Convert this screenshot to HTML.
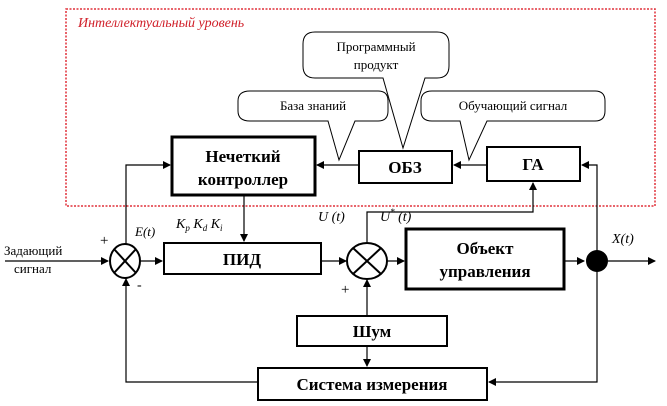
<!DOCTYPE html>
<html><head><meta charset="utf-8"><style>
html,body{margin:0;padding:0;background:#fff;}
svg{display:block;}
text{font-family:"Liberation Serif",serif;}
</style></head><body>
<svg width="667" height="406" viewBox="0 0 667 406" xmlns="http://www.w3.org/2000/svg">
<defs>
<marker id="a" markerWidth="8" markerHeight="8" refX="7" refY="4" orient="auto" markerUnits="userSpaceOnUse">
<path d="M0,0 L8,4 L0,8 z" fill="#000"/></marker>
</defs>
<rect x="66" y="9" width="589" height="197" fill="none" stroke="#e0303a" stroke-width="1.5" stroke-dasharray="2,1.5"/>
<text x="78" y="27" font-size="14" font-style="italic" fill="#d0202a">Интеллектуальный уровень</text>

<path d="M315,32 H437 Q449,32 449,44 V66 Q449,78 437,78 H425 L403,148 L383,78 H315 Q303,78 303,66 V44 Q303,32 315,32 Z" fill="#fff" stroke="#000" stroke-width="1"/>
<text x="376" y="51" font-size="13" text-anchor="middle">Программный</text>
<text x="376" y="69" font-size="13" text-anchor="middle">продукт</text>
<path d="M250,91 H378 Q388,91 388,101 V111 Q388,121 378,121 H355 L339,160 L328,121 H250 Q238,121 238,111 V101 Q238,91 250,91 Z" fill="#fff" stroke="#000" stroke-width="1"/>
<text x="313" y="110" font-size="13" text-anchor="middle">База знаний</text>
<path d="M432,91 H595 Q605,91 605,101 V111 Q605,121 595,121 H487 L469,160 L460,121 H432 Q421,121 421,111 V101 Q421,91 432,91 Z" fill="#fff" stroke="#000" stroke-width="1"/>
<text x="513" y="110" font-size="13" text-anchor="middle">Обучающий сигнал</text>

<g fill="#fff" stroke="#000">
<rect x="172" y="137" width="143" height="58" stroke-width="3"/>
<rect x="359" y="151" width="93" height="32" stroke-width="2"/>
<rect x="487" y="147" width="93" height="34" stroke-width="2"/>
<rect x="164" y="243" width="157" height="31" stroke-width="2"/>
<rect x="406" y="229" width="158" height="60" stroke-width="3"/>
<rect x="297" y="316" width="150" height="30" stroke-width="2"/>
<rect x="258" y="368" width="229" height="32" stroke-width="2"/>
</g>
<g font-weight="bold" text-anchor="middle" font-size="17">
<text x="243" y="162">Нечеткий</text>
<text x="243" y="185">контроллер</text>
<text x="405" y="173">ОБЗ</text>
<text x="533" y="170">ГА</text>
<text x="242" y="265">ПИД</text>
<text x="485" y="254">Объект</text>
<text x="485" y="277">управления</text>
<text x="372" y="337">Шум</text>
<text x="372" y="390">Система измерения</text>
</g>

<g stroke="#000" stroke-width="1.2" fill="none">
<line x1="487" y1="165" x2="454" y2="165" marker-end="url(#a)"/>
<line x1="359" y1="165" x2="317" y2="165" marker-end="url(#a)"/>
<polyline points="126,244 126,165 170,165" marker-end="url(#a)"/>
<line x1="244" y1="195" x2="244" y2="241" marker-end="url(#a)"/>
<line x1="5" y1="261" x2="108" y2="261" marker-end="url(#a)"/>
<line x1="140" y1="261" x2="162" y2="261" marker-end="url(#a)"/>
<line x1="321" y1="261" x2="346" y2="261" marker-end="url(#a)"/>
<line x1="387" y1="261" x2="404" y2="261" marker-end="url(#a)"/>
<line x1="564" y1="261" x2="584" y2="261" marker-end="url(#a)"/>
<line x1="608" y1="261" x2="655" y2="261" marker-end="url(#a)"/>
<polyline points="367,242 367,212 533,212 533,183" marker-end="url(#a)"/>
<polyline points="597,261 597,165 582,165" marker-end="url(#a)"/>
<polyline points="597,261 597,382 489,382" marker-end="url(#a)"/>
<polyline points="258,382 126,382 126,279" marker-end="url(#a)"/>
<line x1="367" y1="316" x2="367" y2="280" marker-end="url(#a)"/>
<line x1="367" y1="346" x2="367" y2="366" marker-end="url(#a)"/>
</g>
<g stroke="#000" stroke-width="2" fill="#fff">
<ellipse cx="125" cy="261" rx="15" ry="17"/>
<ellipse cx="367" cy="261" rx="20" ry="18"/>
</g>
<g stroke="#000" stroke-width="2">
<line x1="114" y1="249" x2="136" y2="273"/><line x1="136" y1="249" x2="114" y2="273"/>
<line x1="353" y1="248" x2="381" y2="274"/><line x1="381" y1="248" x2="353" y2="274"/>
</g>
<circle cx="597" cy="261" r="11" fill="#000"/>

<g font-size="13">
<text x="4" y="255" font-family="Liberation Sans">Задающий</text>
<text x="14" y="273" font-family="Liberation Sans">сигнал</text>
<text x="100" y="245" font-size="15">+</text>
<text x="137" y="289" font-size="14">-</text>
<text x="135" y="236" font-style="italic">E(t)</text>
<text x="176" y="228" font-style="italic" font-size="14">K<tspan font-size="9" dy="3">p</tspan><tspan dy="-3"> K</tspan><tspan font-size="9" dy="3">d</tspan><tspan dy="-3"> K</tspan><tspan font-size="9" dy="3">i</tspan></text>
<text x="318" y="221" font-style="italic" font-size="14">U (t)</text>
<text x="380" y="221" font-style="italic" font-size="14">U<tspan font-size="9" dy="-6">*</tspan><tspan dy="6"> (t)</tspan></text>
<text x="341" y="294" font-size="15">+</text>
<text x="612" y="243" font-style="italic" font-size="14">X(t)</text>
</g>
</svg>
</body></html>
